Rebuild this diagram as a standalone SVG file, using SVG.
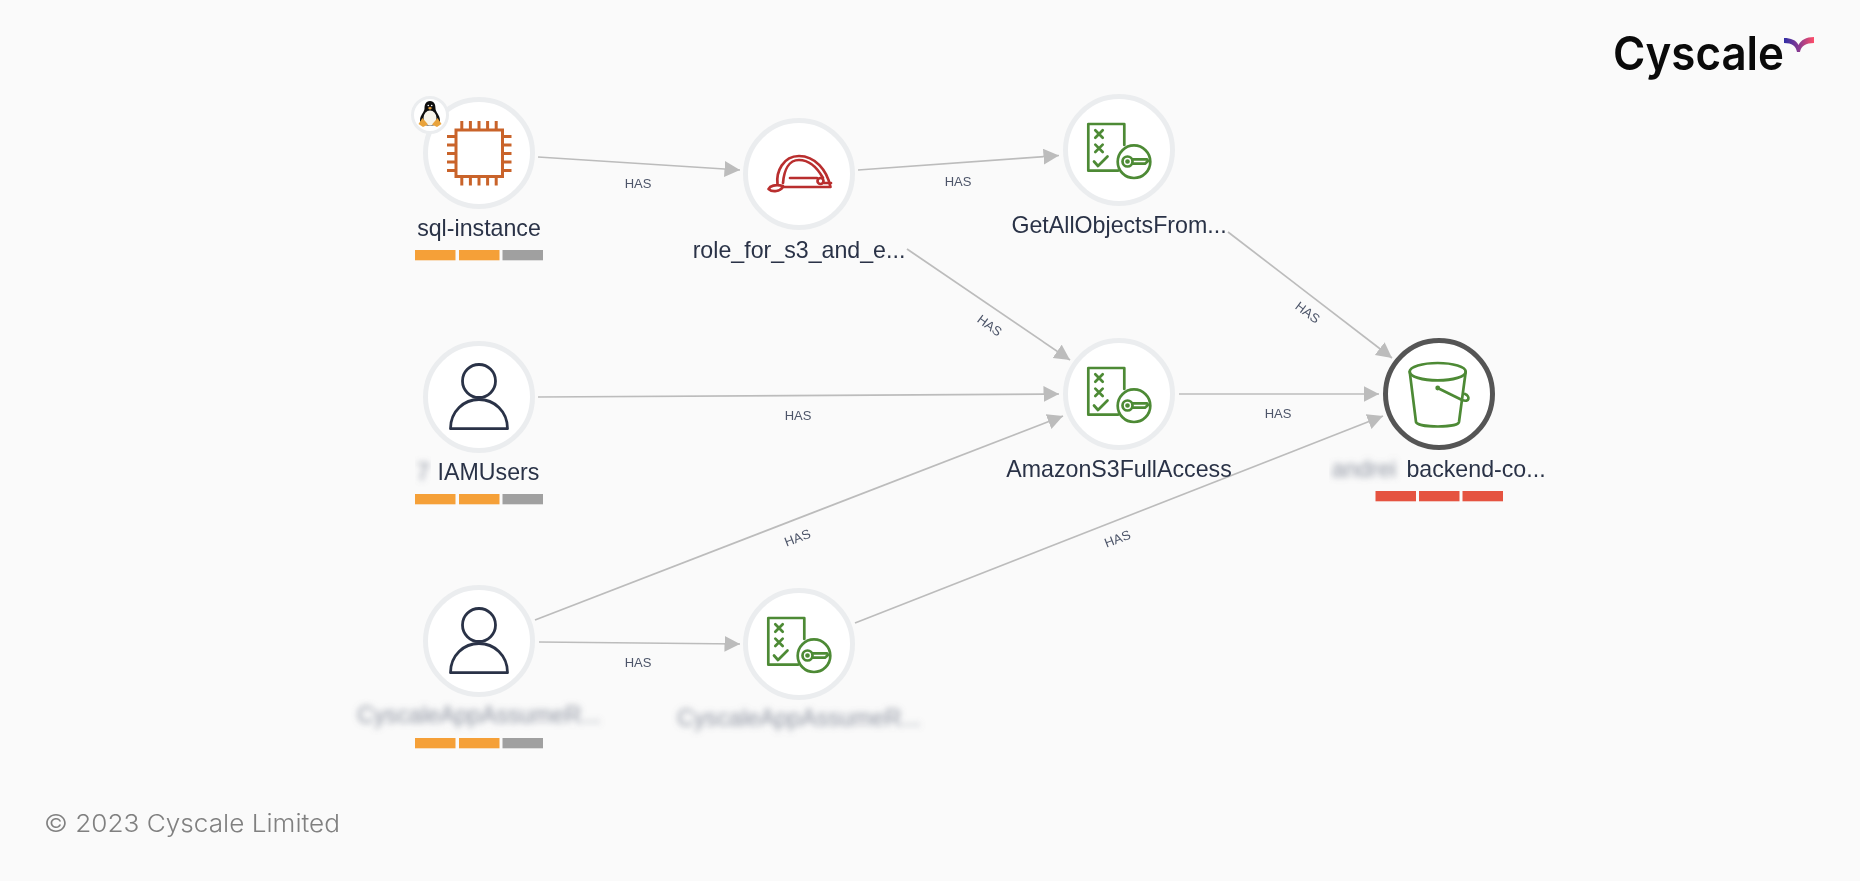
<svg xmlns="http://www.w3.org/2000/svg" width="1860" height="881" viewBox="0 0 1860 881">
<style>
.ring{fill:#fff;stroke:#ebedef;stroke-width:5}
.ring.sel{stroke:#555;stroke-width:5}
.lbl{font-family:"Liberation Sans",Arial,sans-serif;font-size:23.2px;fill:#2a3347;text-anchor:middle}
.blurred{fill:#8d93a0}
.has{font-family:"Liberation Sans",Arial,sans-serif;font-size:13px;fill:#4d5569;text-anchor:middle}
.edge{stroke:#bcbcbc;stroke-width:1.7;fill:none;marker-end:url(#arrow)}
.o{fill:#f5a037}.g{fill:#a0a0a0}.r{fill:#e5533f}
.pol{fill:none;stroke:#4d8a35;stroke-width:2.7;stroke-linejoin:round;stroke-linecap:round}
.usr{fill:none;stroke:#2a3347;stroke-width:2.8;stroke-linejoin:round;stroke-linecap:round}
.chip{fill:none;stroke:#c9642b;stroke-width:3}
.hat{fill:none;stroke:#b92e2e;stroke-width:2.7;stroke-linejoin:round;stroke-linecap:round}
</style>
<defs>
<marker id="arrow" markerUnits="userSpaceOnUse" markerWidth="17" markerHeight="17" refX="15.500" refY="8" orient="auto"><path d="M0 0L15.500 8L0 16Z" fill="#bcbcbc"/></marker>
<filter id="soft" x="-5%" y="-5%" width="110%" height="110%"><feGaussianBlur stdDeviation="0.5"/></filter>
<filter id="smear" x="-10%" y="-40%" width="120%" height="180%"><feGaussianBlur stdDeviation="3.4"/></filter>
<linearGradient id="mark" gradientUnits="userSpaceOnUse" x1="1784" x2="1814" y1="0" y2="0"><stop offset="0" stop-color="#2f2ea6"/><stop offset=".5" stop-color="#8a3a90"/><stop offset="1" stop-color="#ff4d68"/></linearGradient>
<g id="policy" class="pol">
<path d="M-1 20.700H-30.700V-26H5.300V-5"/>
<path d="M-23.700 -19.700l7.400 7.400m0 -7.400l-7.400 7.400M-23.700 -5.400l7.400 7.400m0 -7.400l-7.400 7.400M-25 11.500l4 4.500l9.500 -9.500"/>
<circle cx="15" cy="11.700" r="16.300"/>
<circle cx="8.500" cy="11.500" r="5"/><circle cx="8.500" cy="11.500" r="1" fill="#4d8a35"/>
<path d="M13.500 9.300H28L29 11L26 13.700H13.500"/>
</g>
<g id="person" class="usr">
<circle cx="0" cy="-16" r="16.500"/>
<path d="M-28.500 31.700C-28.500 14 -15 2.500 0 2.500S28.500 14 28.500 31.700Z"/>
</g>
</defs>
<rect width="1860" height="881" fill="#fafafa"/>
<g id="connectors" filter="url(#soft)">
<line class="edge" x1="538" y1="157" x2="740" y2="170"/>
<line class="edge" x1="858" y1="170" x2="1059" y2="155.500"/>
<line class="edge" x1="907" y1="249" x2="1070" y2="360"/>
<line class="edge" x1="1228" y1="232" x2="1392" y2="358"/>
<line class="edge" x1="1179" y1="394" x2="1379" y2="394"/>
<line class="edge" x1="538" y1="397" x2="1059" y2="394"/>
<line class="edge" x1="535" y1="620" x2="1063" y2="416"/>
<line class="edge" x1="539" y1="642" x2="740" y2="644"/>
<line class="edge" x1="855" y1="623" x2="1383" y2="416"/>
<text class="has" x="638" y="188">HAS</text>
<text class="has" x="958" y="186">HAS</text>
<text class="has" transform="translate(987 329) rotate(36)">HAS</text>
<text class="has" transform="translate(1305 316) rotate(37)">HAS</text>
<text class="has" x="798" y="420">HAS</text>
<text class="has" x="1278" y="418">HAS</text>
<text class="has" transform="translate(799 542) rotate(-21)">HAS</text>
<text class="has" transform="translate(1119 543) rotate(-21)">HAS</text>
<text class="has" x="638" y="667">HAS</text>
</g>
<g id="node-sql-instance" filter="url(#soft)">
<circle class="ring" cx="479" cy="153" r="53.500"/>
<g class="chip">
<rect x="456" y="130" width="46.500" height="46.500"/>
<path d="M461.800 130v-9M470.400 130v-9M479 130v-9M487.600 130v-9M496.200 130v-9M461.800 176.500v9M470.400 176.500v9M479 176.500v9M487.600 176.500v9M496.200 176.500v9M456 136.500h-9M456 145h-9M456 153.500h-9M456 162h-9M456 170.500h-9M502.500 136.500h9M502.500 145h9M502.500 153.500h9M502.500 162h9M502.500 170.500h9"/>
</g>
<circle cx="430" cy="115" r="17.500" fill="#fff" stroke="#ebedef" stroke-width="3"/>
<path d="M430 101C425.500 101 424.500 105 424.500 108.500C424.500 112 420 115 420 120.500C420 124 424 125.500 430 125.500C436 125.500 440 124 440 120.500C440 115 435.500 112 435.500 108.500C435.500 105 434.500 101 430 101Z" fill="#111"/>
<ellipse cx="430" cy="118" rx="6.500" ry="7.500" fill="#f6f3ea"/>
<circle cx="428.300" cy="105.500" r=".8" fill="#fff"/><circle cx="431.700" cy="105.500" r=".8" fill="#fff"/>
<path d="M427.800 108L430 106.800L432.200 108L430 109.800Z" fill="#e9a33b"/>
<path d="M418.500 124L422.500 118L428 124.500L423 127Z" fill="#e9a33b"/>
<path d="M432 124.500L437.500 118L441.500 124L437 127Z" fill="#e9a33b"/>
<text class="lbl" x="479" y="236">sql-instance</text>
<rect class="o" x="415" y="250" width="40.500" height="10.300"/><rect class="o" x="459" y="250" width="40.500" height="10.300"/><rect class="g" x="502.500" y="250" width="40.500" height="10.300"/>
</g>
<g id="node-role" filter="url(#soft)">
<circle class="ring" cx="799" cy="174" r="53.500"/>
<g class="hat">
<path d="M777.500 184C776 172 783 156 799 156C815 156 827 170 830.500 187H783C780 191 773 193 768.500 189C770 186 775 184 783 186"/>
<path d="M783 183C784 170 789 160 799 160C810 160 818 169 823 178"/>
<path d="M790 178H817"/>
<circle cx="820.500" cy="181" r="3"/>
<path d="M824 183H831"/>
</g>
<text class="lbl" x="799" y="257.500">role_for_s3_and_e...</text>
</g>
<g id="node-getall" filter="url(#soft)">
<circle class="ring" cx="1119" cy="150" r="53.500"/>
<use href="#policy" x="1119" y="150"/>
<text class="lbl" x="1119" y="233">GetAllObjectsFrom...</text>
</g>
<g id="node-s3fullaccess" filter="url(#soft)">
<circle class="ring" cx="1119" cy="394" r="53.500"/>
<use href="#policy" x="1119" y="394"/>
<text class="lbl" x="1119" y="477">AmazonS3FullAccess</text>
</g>
<g id="node-bucket" filter="url(#soft)">
<circle class="ring sel" cx="1439" cy="394" r="53.500"/>
<g fill="none" stroke="#4d8a35" stroke-width="2.700" stroke-linejoin="round" stroke-linecap="round">
<ellipse cx="1437.700" cy="371.700" rx="28" ry="8.700"/>
<path d="M1409.700 371.700L1416 422C1418 428 1458 428 1459 422L1465.700 371.700"/>
<path d="M1437.700 388L1462 400C1470 403 1470 396 1465 394"/>
</g>
<circle cx="1437.700" cy="388" r="2.400" fill="#4d8a35"/>
<text class="lbl" x="1476" y="477">backend-co...</text>
<text class="lbl blurred" x="1364" y="477" filter="url(#smear)">andrei</text>
<rect class="r" x="1375.500" y="491" width="40.500" height="10.300"/><rect class="r" x="1419" y="491" width="40.500" height="10.300"/><rect class="r" x="1462.500" y="491" width="40.500" height="10.300"/>
</g>
<g id="node-iamusers" filter="url(#soft)">
<circle class="ring" cx="479" cy="397" r="53.500"/>
<use href="#person" x="479" y="397"/>
<text class="lbl" x="488.500" y="480">IAMUsers</text>
<text class="lbl blurred" x="423" y="480" filter="url(#smear)">7</text>
<rect class="o" x="415" y="494" width="40.500" height="10.300"/><rect class="o" x="459" y="494" width="40.500" height="10.300"/><rect class="g" x="502.500" y="494" width="40.500" height="10.300"/>
</g>
<g id="node-cyscale-user" filter="url(#soft)">
<circle class="ring" cx="479" cy="641" r="53.500"/>
<use href="#person" x="479" y="641"/>
<text class="lbl blurred" x="479" y="723" filter="url(#smear)">CyscaleAppAssumeR...</text>
<rect class="o" x="415" y="738" width="40.500" height="10.300"/><rect class="o" x="459" y="738" width="40.500" height="10.300"/><rect class="g" x="502.500" y="738" width="40.500" height="10.300"/>
</g>
<g id="node-cyscale-policy" filter="url(#soft)">
<circle class="ring" cx="799" cy="644" r="53.500"/>
<use href="#policy" x="799" y="644"/>
<text class="lbl blurred" x="799" y="726" filter="url(#smear)">CyscaleAppAssumeR...</text>
</g>
<g id="logo">
<text x="1613" y="70" font-family="Inter,'Liberation Sans',sans-serif" font-size="47" font-weight="600" fill="#0a0a0a" textLength="171" lengthAdjust="spacingAndGlyphs">Cyscale</text>
<path d="M1784 38V43C1792 43 1796 46 1797 52H1800C1801 46 1806 43 1814 43V37C1806 37 1801 40 1798.500 45C1796 40 1791 38 1784 38Z" fill="url(#mark)"/>
</g>
<text id="copyright" x="44" y="832" font-family="Inter,'Liberation Sans',sans-serif" font-size="24.500" font-weight="300" fill="#808080" textLength="296" lengthAdjust="spacingAndGlyphs">© 2023 Cyscale Limited</text>
</svg>
